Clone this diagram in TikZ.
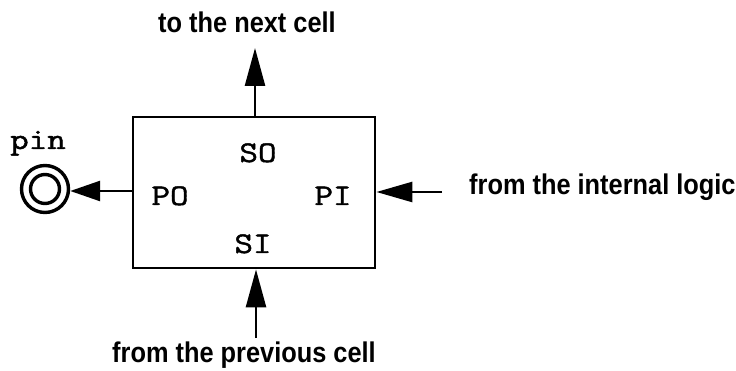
\documentclass[tikz,border=0pt]{standalone}
\usepackage{fontspec}
\setmainfont{Liberation Sans}
\newfontfamily\capfont[FakeStretch=0.89]{Liberation Sans Bold}
\newfontfamily\monofont[FakeStretch=1.2,FakeBold=1.5]{Latin Modern Mono}
\usetikzlibrary{arrows.meta}
\begin{document}
\begin{tikzpicture}[x=1pt,y=-1pt,
  cellbox/.style={draw,line width=2.8pt,minimum width=242pt,minimum height=151pt,inner sep=0pt},
  port/.style={font=\monofont\fontsize{30}{30}\selectfont,inner sep=0pt,anchor=base},
  caption/.style={font=\capfont\fontsize{28.5}{28.5}\selectfont,inner sep=0pt,anchor=base},
  sig/.style={line width=2.6pt,-{Triangle[length=38pt,width=20pt]}},
  pinring/.style={draw,circle,line width=3.4pt,minimum size=47pt,inner sep=0pt}]
\useasboundingbox (0,0) rectangle (736,371);
\node[cellbox] (cell) at (254,192.5) {};
\node[port] (so) at (258,162) {SO};
\node[port] (po) at (170,205) {PO};
\node[port] (pi) at (333,205) {PI};
\node[port] (si) at (253,253) {SI};
\node[pinring] (pin) at (45,189) {};
\draw[line width=3.4pt] (pin.center) circle[radius=14.5pt];
\node[port] (pinlabel) at (38,149) {pin};
\coordinate (pinline) at (0,191);
\draw[line width=2.6pt,-{Triangle[length=30pt,width=20pt]}] (cell.west |- pinline) -- (pin.east |- pinline);
\coordinate (topend) at (255,48);
\draw[sig] (cell.north -| topend) -- (topend);
\node[caption] (next) at (247,33) {to the next cell};
\coordinate (botstart) at (256,338);
\draw[sig] (botstart) -- (botstart |- cell.south);
\node[caption] (prev) at (244,362) {from the previous cell};
\coordinate (rstart) at (442,192);
\draw[sig,-{Triangle[length=36pt,width=20pt]}] (rstart) -- (rstart -| cell.east);
\node[caption,anchor=base west] (logic) at (469,195) {from the internal logic};
\end{tikzpicture}
\end{document}
